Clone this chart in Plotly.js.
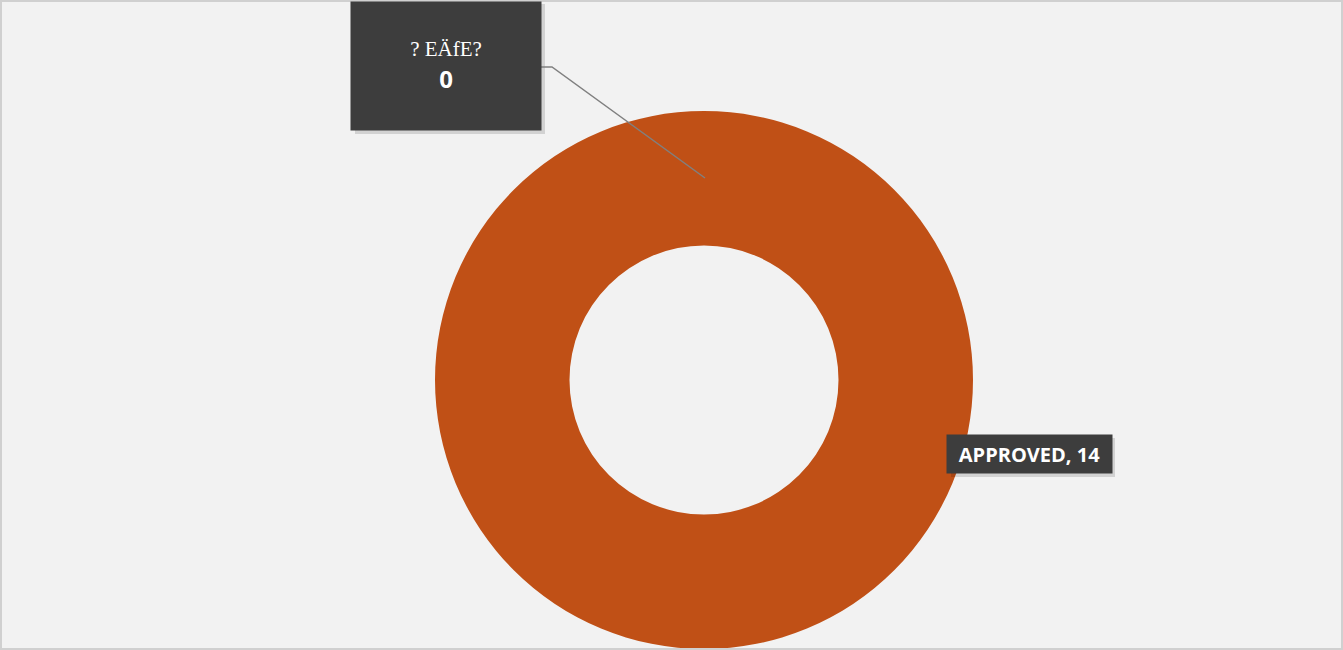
<!DOCTYPE html>
<html>
<head>
<meta charset="utf-8">
<script src="https://cdn.plot.ly/plotly-3.0.1.min.js"></script>
<style>html,body{margin:0;padding:0;background:#f2f2f2;}#chart{width:1343px;height:650px;}</style>
</head>
<body>
<div id="chart"></div>
<script>
const labels = ['? EÄfE?', 'APPROVED'];
const values = [0, 14];
const sliceColors = ['#4f81bd', '#c05016'];

const W = 1343, H = 650;
const px = x => x / W;
const py = y => 1 - y / H;

const trace = {
  type: 'pie',
  labels: labels,
  values: values,
  hole: 0.5,
  sort: false,
  direction: 'clockwise',
  rotation: 0,
  textinfo: 'none',
  hoverinfo: 'none',
  marker: {colors: sliceColors, line: {width: 0}},
  domain: {x: [px(435), px(973)], y: [py(649), py(111)]},
  showlegend: false
};

const layout = {
  width: W, height: H,
  margin: {l: 0, r: 0, t: 0, b: 0},
  paper_bgcolor: '#f2f2f2',
  plot_bgcolor: '#f2f2f2',
  showlegend: false,
  shapes: [
    {type: 'rect', xref: 'paper', yref: 'paper', x0: px(1), x1: px(1342), y0: py(649), y1: py(1),
     line: {color: '#d0d0d0', width: 2}},
    {type: 'rect', xref: 'paper', yref: 'paper', x0: px(355), x1: px(545), y0: py(134), y1: py(4),
     fillcolor: 'rgba(0,0,0,0.13)', line: {width: 0}},
    {type: 'rect', xref: 'paper', yref: 'paper', x0: px(951), x1: px(1115), y0: py(477), y1: py(438),
     fillcolor: 'rgba(0,0,0,0.13)', line: {width: 0}},
    {type: 'path', xref: 'paper', yref: 'paper',
     path: 'M ' + px(705) + ' ' + py(178) + ' L ' + px(552) + ' ' + py(67) + ' L ' + px(541) + ' ' + py(67),
     line: {color: '#808080', width: 1.5}}
  ],
  annotations: [
    {xref: 'paper', yref: 'paper', x: px(446), y: py(66), xanchor: 'center', yanchor: 'middle',
     showarrow: false, width: 190, height: 128, bgcolor: '#3d3d3d', borderpad: 0,
     text: '<span style="font-family:Liberation Serif;font-size:21px">' + labels[0] + '</span><br><b>' + values[0] + '</b>',
     font: {family: 'Open Sans, Arial', size: 24, color: '#ffffff'}},
    {xref: 'paper', yref: 'paper', x: px(1029.5), y: py(454), xanchor: 'center', yanchor: 'middle',
     showarrow: false, width: 165, height: 38, bgcolor: '#3d3d3d', borderpad: 0,
     text: '<b>' + labels[1] + ', ' + values[1] + '</b>',
     font: {family: 'Open Sans, Arial', size: 20, color: '#ffffff'}}
  ]
};

Plotly.newPlot('chart', [trace], layout, {displayModeBar: false, staticPlot: true});
</script>
</body>
</html>
